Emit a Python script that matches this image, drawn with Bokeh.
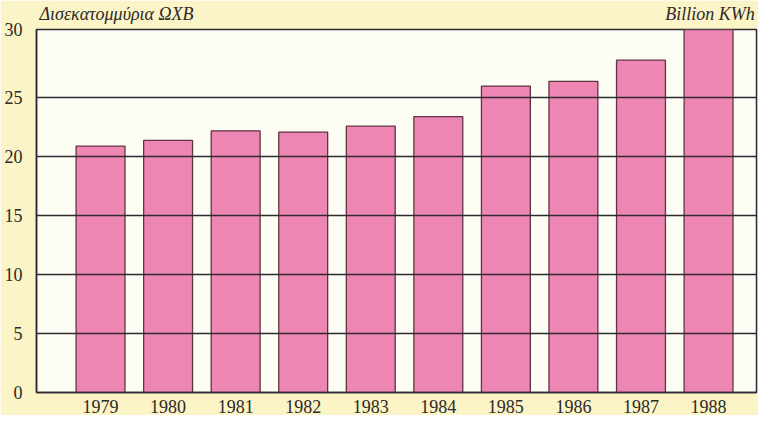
from bokeh.plotting import figure
from bokeh.models import FixedTicker, LinearAxis, ColumnDataSource, Range1d
from bokeh.embed import file_html
from bokeh.resources import INLINE

years = [1979, 1980, 1981, 1982, 1983, 1984, 1985, 1986, 1987, 1988]
values = [20.9, 21.4, 22.2, 22.1, 22.6, 23.4, 26.0, 26.4, 28.2, 31.0]
y_ticks = [0, 5, 10, 15, 20, 25, 30.8]
y_tick_labels = {0: "0", 5: "5", 10: "10", 15: "15", 20: "20", 25: "25", 30.8: "30"}
left_title = "Δισεκατομμύρια ΩΧΒ"
right_title = "Billion KWh"

BG = "#faf4c6"
PLOT_BG = "#fefdf4"
PINK = "#ee86b3"
DARK = "#2e2a30"
TEXT = "#2e2828"
FONT = "Liberation Serif"

W, H = 758, 415
BL, BR, BT, BB = 36, 2, 29, 19
X0, X1 = 1978.052, 1988.71
FW = W - BL - BR
px = (X1 - X0) / FW  # data units per pixel

src = ColumnDataSource(dict(x=years, top=values))

p = figure(width=W, height=H, output_backend="svg", toolbar_location=None,
           x_range=Range1d(X0, X1), y_range=Range1d(0, 30.8),
           min_border_left=BL, min_border_right=BR, min_border_top=BT, min_border_bottom=BB)
p.border_fill_color = BG
p.background_fill_color = PLOT_BG
p.outline_line_color = DARK
p.outline_line_width = 1.5

p.vbar(x="x", top="top", width=0.724, source=src, fill_color=PINK,
       line_color="#5e3440", line_width=1.3)

p.xgrid.visible = False
p.ygrid.ticker = FixedTicker(ticks=[5, 10, 15, 20, 25])
p.ygrid.grid_line_color = DARK
p.ygrid.grid_line_width = 1.6
p.ygrid.level = "overlay"

p.xaxis.ticker = FixedTicker(ticks=years)
p.yaxis.ticker = FixedTicker(ticks=y_ticks)
p.yaxis.major_label_overrides = y_tick_labels
for ax in (p.xaxis[0], p.yaxis[0]):
    ax.axis_line_color = DARK
    ax.axis_line_width = 1.5
    ax.major_tick_line_color = None
    ax.minor_tick_line_color = None
    ax.major_label_text_font = FONT
    ax.major_label_text_font_size = "18px"
    ax.major_label_text_color = TEXT
p.xaxis.major_label_standoff = 1
p.yaxis.major_label_standoff = 8

# header texts placed via an axis above the frame (centres from estimated text widths)
left_pos = X0 + 80 * px
right_pos = X1 - 46.5 * px
top_axis = LinearAxis(ticker=FixedTicker(ticks=[left_pos, right_pos]),
                      major_label_overrides={left_pos: left_title, right_pos: right_title},
                      axis_line_color=None, major_tick_line_color=None,
                      minor_tick_line_color=None, major_label_standoff=0,
                      major_label_text_font=FONT, major_label_text_font_style="italic",
                      major_label_text_font_size="18px", major_label_text_color=TEXT)
p.add_layout(top_axis, "above")

open("out.html", "w").write(file_html(p, INLINE))
